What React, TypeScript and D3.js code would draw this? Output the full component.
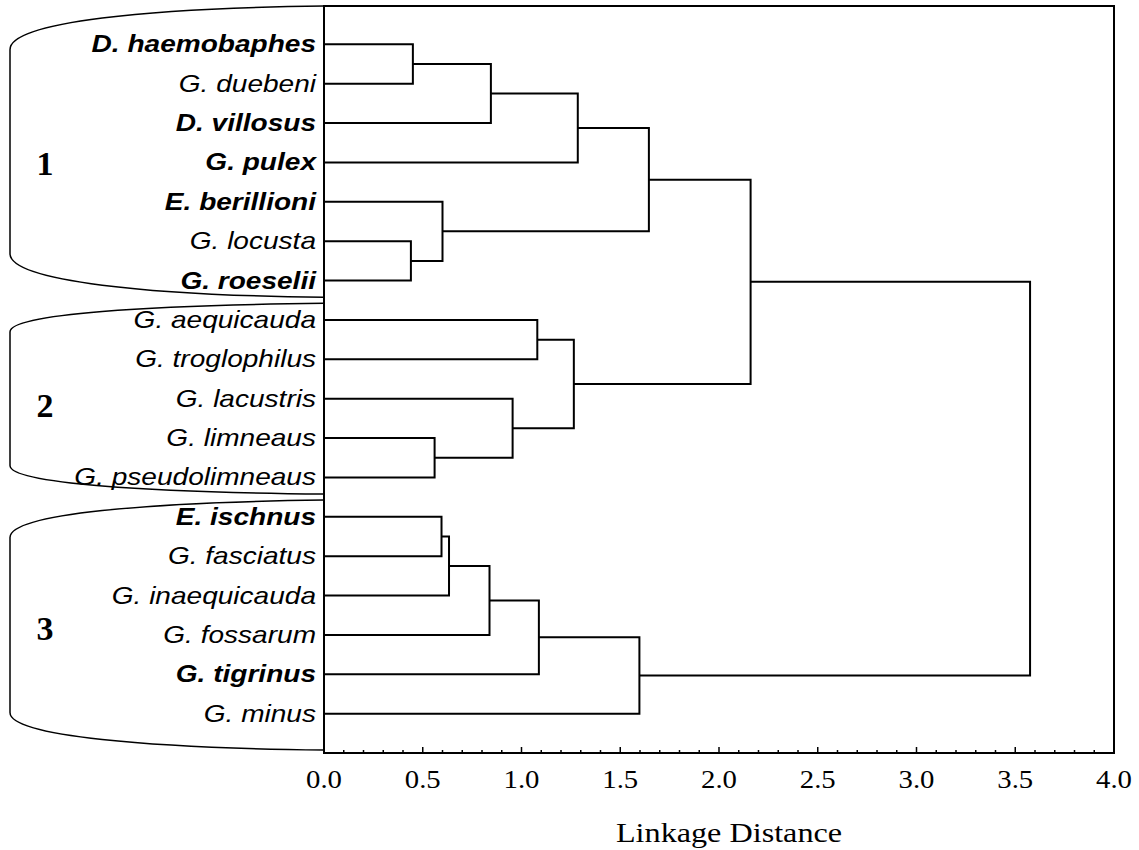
import * as d3 from 'd3';

// leaves, top to bottom
const species = [
  'D. haemobaphes', 'G. duebeni', 'D. villosus', 'G. pulex', 'E. berillioni',
  'G. locusta', 'G. roeselii', 'G. aequicauda', 'G. troglophilus', 'G. lacustris',
  'G. limneaus', 'G. pseudolimneaus', 'E. ischnus', 'G. fasciatus',
  'G. inaequicauda', 'G. fossarum', 'G. tigrinus', 'G. minus',
];
const boldSpecies = [true, false, true, true, true, false, true, false, false, false,
  false, false, true, false, false, false, true, false];

// merges: node ids 0..17 are leaves, each merge gets the next id (18, 19, ...)
const mergeA = [0, 18, 19, 5, 4, 20, 7, 10, 9, 24, 23, 12, 29, 30, 31, 32, 28];
const mergeB = [1, 2, 3, 6, 21, 22, 8, 11, 25, 26, 27, 13, 14, 15, 16, 17, 33];
const mergeHeight = [0.45, 0.845, 1.285, 0.44, 0.6, 1.645, 1.08, 0.56, 0.955, 1.265,
  2.16, 0.595, 0.633, 0.838, 1.088, 1.597, 3.575];

// groups and their numerals
const groupNames = ['1', '2', '3'];
const groupFirst = [0, 7, 12];
const groupLast = [6, 11, 17];
const groupNumeralAt = [3.32, 9.47, 15.13]; // in leaf units

const xTicks = [0, 0.5, 1, 1.5, 2, 2.5, 3, 3.5, 4];
const xLabel = 'Linkage Distance';

const sans = "'Liberation Sans', Arial, Helvetica, sans-serif";
const serif = "'Liberation Serif', 'Times New Roman', Times, serif";

export default function App() {
  const width = 1139;
  const height = 850;
  const left = 324;
  const right = 1114;
  const top = 5;
  const bottom = 753;

  const x = d3.scaleLinear().domain([0, 4]).range([left, right]);
  const y = d3.scalePoint<number>()
    .domain(species.map((_, i) => i))
    .range([top, bottom])
    .padding(1);
  const step = y.step();
  const yLin = d3.scaleLinear().domain([0, species.length - 1]).range([y(0)!, y(species.length - 1)!]);

  // node positions
  const nodeY: number[] = species.map((_, i) => y(i)!);
  const nodeH: number[] = species.map(() => 0);
  const links: string[] = [];
  mergeA.forEach((a, k) => {
    const b = mergeB[k];
    const h = mergeHeight[k];
    const ya = nodeY[a];
    const yb = nodeY[b];
    links.push(`M${x(nodeH[a])},${ya}H${x(h)}V${yb}H${x(nodeH[b])}`);
    nodeY.push((ya + yb) / 2);
    nodeH.push(h);
  });

  const minor = d3.range(0, 40.5, 1).map((d) => d / 10);

  const bracket = (yT: number, yB: number) => {
    const xR = x(0);
    const xL = 10;
    const d = 0.15 * (yB - yT);
    const cx = xL + 0.45 * (xR - xL);
    return `M${xR},${yT}C${cx},${yT + 2} ${xL},${yT + 0.36 * d} ${xL},${yT + d}`
      + `L${xL},${yB - d}C${xL},${yB - 0.36 * d} ${cx},${yB - 2} ${xR},${yB}`;
  };

  const stretch = 1.22;
  const axisStretch = 1.15;

  return (
    <svg width={width} height={height} style={{ position: 'absolute', left: 0, top: 0, background: '#fff' }}>
      {/* brackets */}
      {groupNames.map((g, i) => {
        const yT = i === 0 ? y(groupFirst[i])! - step + 1
          : (y(groupLast[i - 1])! + y(groupFirst[i])!) / 2 + 3;
        const yB = i === groupNames.length - 1 ? y(groupLast[i])! + step - 3
          : (y(groupLast[i])! + y(groupFirst[i + 1])!) / 2 - 3;
        return (
          <g key={g}>
            <path d={bracket(yT, yB)} fill="none" stroke="#000" strokeWidth={1.5} />
            <text x={45} y={yLin(groupNumeralAt[i])} textAnchor="middle" fontFamily={serif}
              fontWeight="bold" fontSize={34}>{g}</text>
          </g>
        );
      })}

      {/* leaf labels */}
      {species.map((s, i) => (
        <text key={s} transform={`translate(316,${y(i)! + 8}) scale(${stretch},1)`} textAnchor="end"
          fontFamily={sans} fontStyle="italic" fontWeight={boldSpecies[i] ? 'bold' : 'normal'}
          fontSize={23}>{s}</text>
      ))}

      {/* dendrogram */}
      <g fill="none" stroke="#000" strokeWidth={2}>
        {links.map((d, i) => <path key={i} d={d} />)}
      </g>

      {/* frame */}
      <rect x={left} y={6} width={right - left} height={bottom - 6} fill="none" stroke="#000" strokeWidth={2} />

      {/* x axis ticks */}
      <g stroke="#000" strokeWidth={1.5}>
        {minor.map((t) => (
          <line key={t} x1={x(t)} x2={x(t)} y1={bottom} y2={bottom - (Math.round(t * 10) % 5 === 0 ? 6 : 3)} />
        ))}
      </g>
      {xTicks.map((t) => (
        <text key={t} transform={`translate(${x(t)},788) scale(${axisStretch},1)`} textAnchor="middle"
          fontFamily={serif} fontSize={25}>{d3.format('.1f')(t)}</text>
      ))}
      <text transform={`translate(${x(2) + 10},842) scale(${axisStretch},1)`} textAnchor="middle"
        fontFamily={serif} fontSize={28}>{xLabel}</text>
    </svg>
  );
}
